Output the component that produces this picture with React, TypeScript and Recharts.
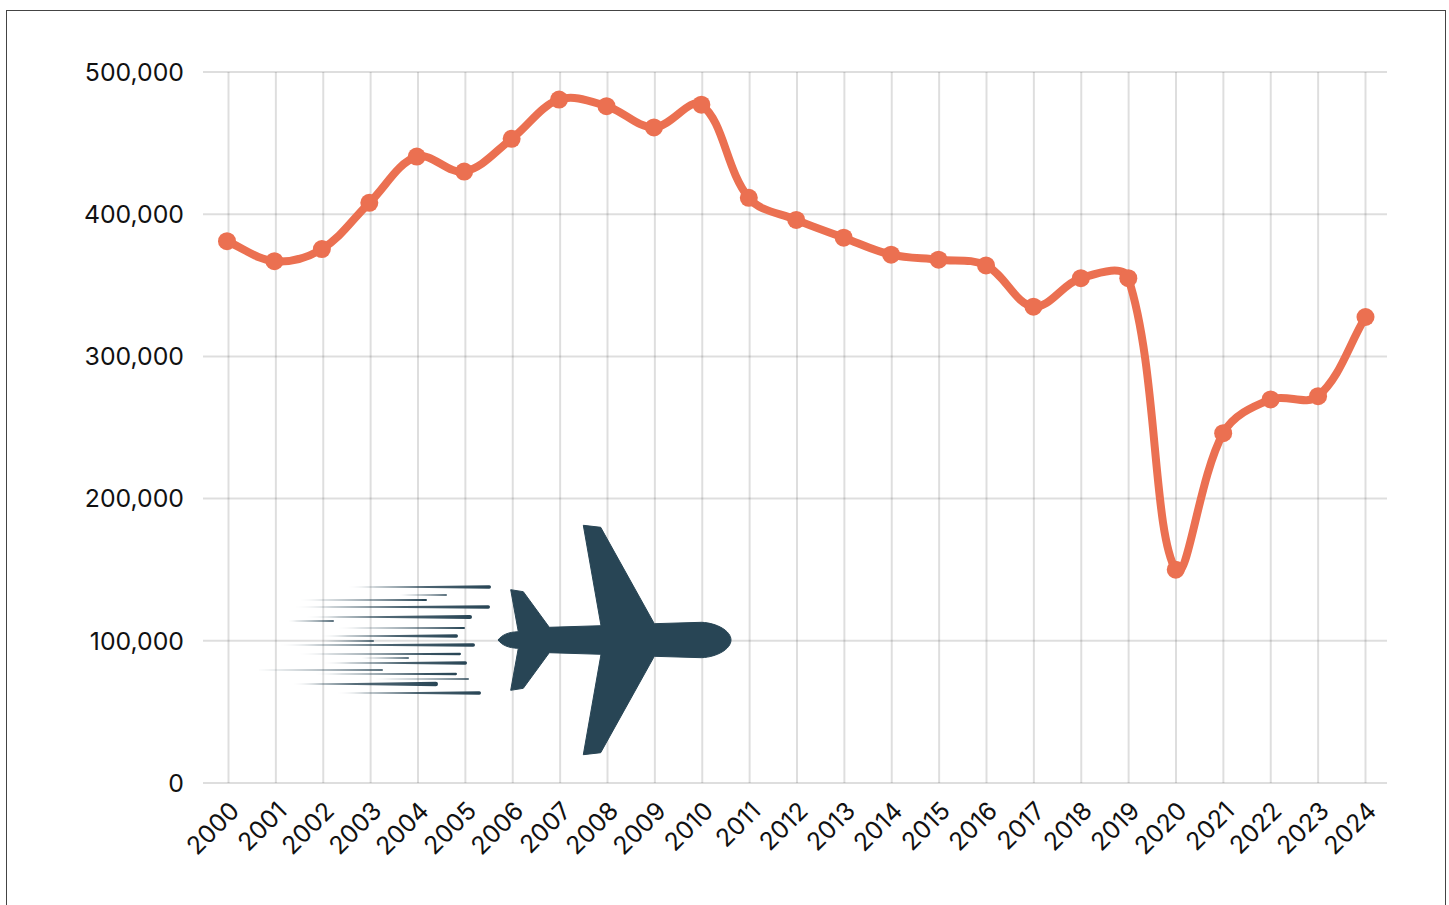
import { LineChart, Line, XAxis, YAxis, CartesianGrid } from 'recharts';

const years = ['2000', '2001', '2002', '2003', '2004', '2005', '2006', '2007', '2008', '2009', '2010', '2011', '2012', '2013', '2014', '2015', '2016', '2017', '2018', '2019', '2020', '2021', '2022', '2023', '2024'];
const passengers = [381000, 367000, 375500, 408000, 440500, 430000, 453000, 480600, 476000, 461000, 477000, 411500, 396000, 383500, 371500, 368000, 364000, 335000, 355000, 355000, 150000, 246000, 269700, 272000, 327700];
const yTicks = [0, 100000, 200000, 300000, 400000, 500000];

const chartData = years.map((year, index) => ({ year, passengers: passengers[index] }));

const FONT = 'Inter, sans-serif';
const ORANGE = '#EB7051';
const NAVY = '#284555';

// Spline through the points, handle lengths follow the length of each segment
function smoothCurve(context: any) {
  let pts: [number, number][] = [];
  const handles = (i: number) => {
    const p = pts[i];
    const before = pts[i - 1] || p;
    const after = pts[i + 1] || p;
    const d1 = Math.hypot(p[0] - before[0], p[1] - before[1]);
    const d2 = Math.hypot(after[0] - p[0], after[1] - p[1]);
    const dx = after[0] - before[0];
    const dy = after[1] - before[1];
    const sum = d1 + d2 || 1;
    return {
      inX: p[0] - (dx * d1 * 0.36) / sum,
      inY: p[1] - (dy * d1 * 0.36) / sum,
      outX: p[0] + (dx * d2 * 0.36) / sum,
      outY: p[1] + (dy * d2 * 0.36) / sum,
    };
  };
  return {
    areaStart() {},
    areaEnd() {},
    lineStart() {
      pts = [];
    },
    point(x: number, y: number) {
      pts.push([+x, +y]);
    },
    lineEnd() {
      pts.forEach((p, i) => {
        if (i === 0) {
          context.moveTo(p[0], p[1]);
          return;
        }
        const a = handles(i - 1);
        const b = handles(i);
        context.bezierCurveTo(a.outX, a.outY, b.inX, b.inY, p[0], p[1]);
      });
    },
  };
}

// start x, end x, y, thickness of the speed streaks behind the plane
const streaks = [
  [347, 491, 587, 3.4], [398, 447, 595, 1.6], [297, 427, 600, 2], [293, 490, 607, 3.4],
  [305, 472, 617, 4], [287, 334, 621, 1.6], [335, 465, 628, 2], [320, 458, 636, 3.4],
  [320, 374, 641, 1.4], [278, 475, 645, 3.6], [297, 461, 654, 2.3], [360, 409, 658, 1.4],
  [322, 467, 663, 3.4], [243, 383, 670, 1.6], [313, 457, 674, 2.3], [373, 469, 679, 1.6],
  [292, 438, 684, 4.4], [336, 481, 693, 3.4],
];

const planePath =
  'M731 640 C731 631 717 623 701.7 622.3 L654.3 623.7 L600.7 527.3 L583.3 525.3 L601 625.7 L549.3 627.3 L523.3 591.7 L510.7 589.7 L518.3 631.7 C508 632 502 635 498 640 ' +
  'C502 645 508 648 518.3 648.3 L510.7 690.3 L523.3 688.3 L549.3 652.7 L601 654.3 L583.3 754.7 L600.7 752.7 L654.3 656.3 L701.7 657.7 C717 657 731 649 731 640 Z';

function Plane() {
  return (
    <svg width={1449} height={905} style={{ position: 'absolute', left: 0, top: 0 }}>
      <defs>
        <linearGradient id="streakFade" x1="0" x2="1" y1="0" y2="0">
          <stop offset="0" stopColor={NAVY} stopOpacity={0.05} />
          <stop offset="0.2" stopColor={NAVY} stopOpacity={0.7} />
          <stop offset="1" stopColor={NAVY} />
        </linearGradient>
      </defs>
      {streaks.map(([x1, x2, y, t], i) => (
        <path
          key={i}
          d={`M${x1} ${y} L${x2 - t / 2} ${y - t / 2} A${t / 2} ${t / 2} 0 0 1 ${x2 - t / 2} ${y + t / 2} Z`}
          fill="url(#streakFade)"
        />
      ))}
      <path d={planePath} fill={NAVY} stroke={NAVY} strokeWidth={1} strokeLinejoin="round" />
    </svg>
  );
}

export default function App() {
  return (
    <div style={{ position: 'absolute', left: 0, top: 0, width: 1449, height: 905, overflow: 'hidden', background: '#fff' }}>
      <div style={{ position: 'absolute', left: 6, top: 10, width: 1438, height: 1000, border: '1px solid #444' }} />
      <div style={{ position: 'absolute', left: 0, top: 0 }}>
        <LineChart width={1449} height={905} data={chartData} margin={{ top: 72, right: 62, bottom: 0, left: 0 }}>
          <XAxis
            dataKey="year"
            scale="point"
            padding={{ left: 25.5, right: 21.5 }}
            height={122}
            interval={0}
            angle={-45}
            textAnchor="end"
            tickSize={0}
            tickMargin={17}
            axisLine={false}
            tick={{ fontFamily: FONT, fontSize: 24.8, fill: '#111' }}
          />
          <XAxis xAxisId="marks" dataKey="year" scale="point" padding={{ left: 24, right: 21.5 }} hide />
          <YAxis
            domain={[0, 500000]}
            ticks={yTicks}
            width={203}
            tickSize={0}
            tickMargin={19}
            axisLine={false}
            tickFormatter={(v: number) => v.toLocaleString('en-US')}
            tick={{ fontFamily: FONT, fontSize: 24.8, fill: '#111' }}
          />
          <Line
            xAxisId="marks"
            dataKey="passengers"
            type={smoothCurve as any}
            stroke={ORANGE}
            strokeWidth={8}
            dot={{ r: 9, fill: ORANGE, stroke: 'none', fillOpacity: 1 }}
            isAnimationActive={false}
          />
          <CartesianGrid stroke="rgba(50,50,50,0.16)" strokeWidth={2} syncWithTicks />
        </LineChart>
      </div>
      <Plane />
    </div>
  );
}
